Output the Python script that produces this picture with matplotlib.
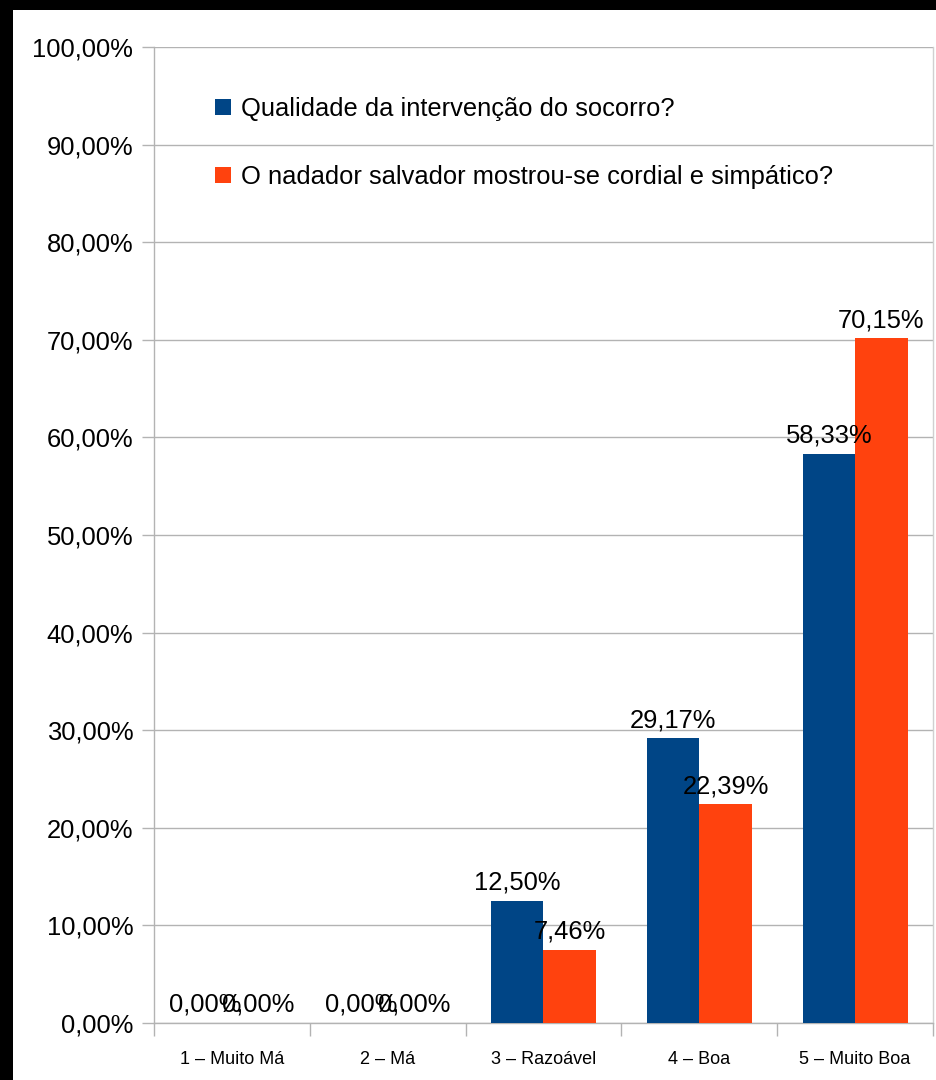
import matplotlib
matplotlib.use("Agg")
import matplotlib.pyplot as plt
from matplotlib.patches import Rectangle
from matplotlib.ticker import FuncFormatter, MultipleLocator
import numpy as np

plt.rcParams['font.family'] = ['Liberation Sans', 'DejaVu Sans']

categories = ["1 – Muito Má", "2 – Má", "3 – Razoável", "4 – Boa", "5 – Muito Boa"]
series_names = ["Qualidade da intervenção do socorro?",
                "O nadador salvador mostrou-se cordial e simpático?"]
qualidade = [0.00, 0.00, 12.50, 29.17, 58.33]
cordial = [0.00, 0.00, 7.46, 22.39, 70.15]
colors = ["#004586", "#ff420e"]

W, H = 937, 1080
fig = plt.figure(figsize=(W / 100, H / 100), dpi=100)
fig.patch.set_facecolor("black")
fig.add_artist(Rectangle((13 / W, 0), 1 - 13 / W, 1 - 10 / H,
                         transform=fig.transFigure, facecolor="white",
                         edgecolor="none", zorder=-10))

left, right, top, bottom = 154, 933, 47, 1023
ax = fig.add_axes([left / W, (H - bottom) / H, (right - left) / W, (bottom - top) / H])
ax.set_facecolor("white")

x = np.arange(len(categories))
bw = 0.337
b1 = ax.bar(x - bw / 2, qualidade, bw, color=colors[0], label=series_names[0], zorder=3)
b2 = ax.bar(x + bw / 2, cordial, bw, color=colors[1], label=series_names[1], zorder=3)

def fmt(v):
    return f"{v:.2f}%".replace(".", ",")

BIG = 18.4
for bars, vals in ((b1, qualidade), (b2, cordial)):
    for r, v in zip(bars, vals):
        ax.annotate(fmt(v), (r.get_x() + r.get_width() / 2, v),
                    xytext=(0, 4.5), textcoords="offset points",
                    ha="center", va="bottom", fontsize=BIG, color="black", zorder=5)

ax.set_xlim(-0.5, len(categories) - 0.5)
ax.set_ylim(0, 100)
ax.yaxis.set_major_locator(MultipleLocator(10))
ax.yaxis.set_major_formatter(FuncFormatter(lambda v, p: fmt(v)))
ax.grid(axis="y", color="#b3b3b3", linewidth=1, zorder=0)

ax.set_xticks(x)
ax.set_xticklabels(categories, fontsize=13)
ax.set_xticks(np.arange(len(categories) + 1) - 0.5, minor=True)
ax.tick_params(axis="x", which="major", length=0, pad=20)
ax.tick_params(axis="x", which="minor", length=9, color="#b3b3b3", width=1)
ax.tick_params(axis="y", which="major", length=9, color="#b3b3b3", width=1,
               labelsize=BIG, pad=6)

for s in ["left", "bottom", "right", "top"]:
    ax.spines[s].set_color("#b3b3b3")
    ax.spines[s].set_linewidth(1)
ax.spines["right"].set_color("#d0d0d0")
ax.spines["top"].set_visible(False)

leg = ax.legend(loc="upper left",
                bbox_to_anchor=((215 - left) / (right - left), 1 - (97 - top) / (bottom - top)),
                frameon=False, fontsize=BIG, handlelength=0.62, handleheight=0.62,
                handletextpad=0.4, labelspacing=1.72, borderaxespad=0, borderpad=0)

fig.savefig("out.png", dpi=100, facecolor=fig.get_facecolor())
